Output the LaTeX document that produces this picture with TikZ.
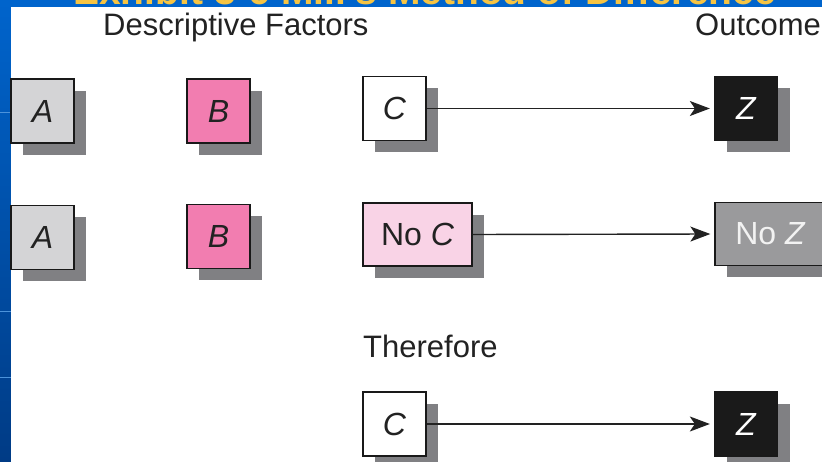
\documentclass[tikz,border=0pt]{standalone}
\usepackage{fontspec}
\setmainfont{Liberation Sans}
\usetikzlibrary{shadows,arrows.meta}
\definecolor{bgblue}{HTML}{0064CC}
\definecolor{bgdark}{HTML}{003B85}
\definecolor{titleyellow}{HTML}{F6C443}
\definecolor{shadowgray}{HTML}{808083}
\definecolor{agray}{HTML}{D4D4D6}
\definecolor{bpink}{HTML}{F27DB0}
\definecolor{lpink}{HTML}{F9D3E6}
\definecolor{zgray}{HTML}{9A9A9C}
\definecolor{zblack}{HTML}{1A1A1A}
\definecolor{inktext}{HTML}{222222}
\begin{document}
\begin{tikzpicture}[x=1pt,y=-1pt,
  box/.style={draw=black!90, line width=1.3pt, minimum width=63pt, minimum height=64pt,
    inner sep=0pt, font=\fontsize{32}{36}\selectfont, text=inktext,
    drop shadow={shadow xshift=12pt, shadow yshift=-12pt, fill=shadowgray, opacity=1}},
  widebox/.style={box, minimum width=109pt, minimum height=63pt},
  header/.style={anchor=base west, inner sep=0pt, font=\fontsize{31}{36}\selectfont, text=inktext},
  conn/.style={line width=1.4pt, draw=inktext, -{Stealth[length=20pt,width=15pt,inset=5pt]}, shorten >=4pt}
]
\useasboundingbox (0,0) rectangle (822,462);
\clip (0,0) rectangle (822,462);
% background frame
\shade[top color=bgblue, bottom color=bgdark] (0,0) rectangle (11,462);
\fill[bgblue] (0,0) rectangle (822,7);
\draw[bgblue!70!white, line width=1pt] (0,113) -- (11,113);
\draw[bgblue!70!white, line width=1pt] (0,312) -- (11,312);
\draw[bgblue!70!white, line width=1pt] (0,377) -- (11,377);
\begin{scope}
  \clip (0,0) rectangle (822,7);
  \node[anchor=base west, inner sep=0pt, text=titleyellow, font=\bfseries\fontsize{39}{44}\selectfont] (title) at (73,5) {Exhibit 3-6 Mill's Method of Difference};
\end{scope}
\fill[white] (11,7) rectangle (822,462);

% headers
\node[header] (hdesc) at (103,36) {Descriptive Factors};
\node[header] (hout) at (695,36) {Outcome};
\node[header] (hther) at (363,357) {Therefore};

% row 1
\node[box, fill=agray] (A1) at (42.5,111) {\itshape A};
\node[box, fill=bpink] (B1) at (218.5,111) {\itshape B};
\node[box, fill=white] (C1) at (394.5,108.5) {\itshape C};
\node[box, fill=zblack, text=white] (Z1) at (746,108.5) {\itshape Z};

% row 2
\node[box, fill=agray] (A2) at (42.5,237.5) {\itshape A};
\node[box, fill=bpink] (B2) at (218.5,236.5) {\itshape B};
\node[widebox, fill=lpink] (NC) at (417.5,234.5) {No \itshape C};
\node[widebox, fill=zgray, text=white!95!black, minimum width=110pt] (NZ) at (770,234) {No \itshape Z};

% row 3
\node[box, fill=white] (C3) at (394.5,424) {\itshape C};
\node[box, fill=zblack, text=white] (Z3) at (746,424) {\itshape Z};

% connectors
\draw[conn] (C1.east) -- (Z1.west);
\draw[conn] (NC.east) -- (NZ.west);
\draw[conn] (C3.east) -- (Z3.west);
\end{tikzpicture}
\end{document}
